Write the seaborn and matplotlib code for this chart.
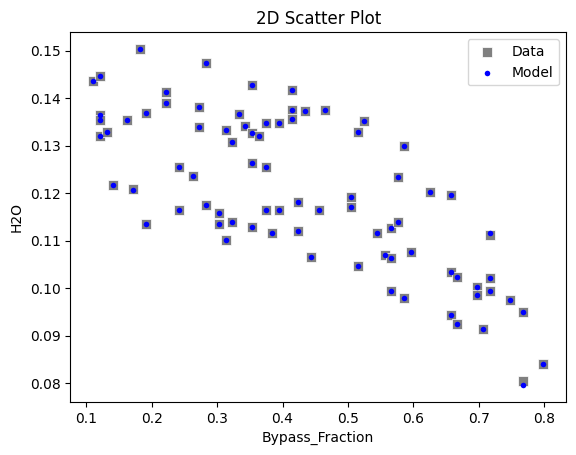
import numpy as np
import pandas as pd

import matplotlib
matplotlib.use('Agg')
import matplotlib.pyplot as plt
import seaborn as sns

bypass = [0.111, 0.121, 0.121, 0.121, 0.121, 0.131, 0.141, 0.162, 0.172, 0.182,
          0.192, 0.192, 0.222, 0.222, 0.242, 0.242, 0.263, 0.273, 0.273, 0.283,
          0.283, 0.303, 0.303, 0.313, 0.313, 0.323, 0.323, 0.333, 0.343, 0.354,
          0.354, 0.354, 0.354, 0.364, 0.374, 0.374, 0.374, 0.384, 0.394, 0.394,
          0.414, 0.414, 0.414, 0.424, 0.424, 0.434, 0.444, 0.455, 0.465, 0.505,
          0.505, 0.515, 0.515, 0.525, 0.545, 0.556, 0.566, 0.566, 0.566, 0.576,
          0.576, 0.586, 0.586, 0.596, 0.626, 0.657, 0.657, 0.657, 0.667, 0.667,
          0.697, 0.697, 0.707, 0.717, 0.717, 0.717, 0.747, 0.768, 0.768, 0.798]

h2o_data = [0.1436, 0.1447, 0.1365, 0.1355, 0.1321, 0.1330, 0.1217, 0.1355, 0.1210, 0.1504,
            0.1370, 0.1135, 0.1413, 0.1391, 0.1256, 0.1165, 0.1237, 0.1382, 0.1340, 0.1474,
            0.1175, 0.1158, 0.1135, 0.1334, 0.1101, 0.1309, 0.1139, 0.1368, 0.1342, 0.1429,
            0.1327, 0.1264, 0.1129, 0.1321, 0.1349, 0.1255, 0.1164, 0.1116, 0.1349, 0.1164,
            0.1418, 0.1376, 0.1356, 0.1181, 0.1120, 0.1374, 0.1067, 0.1164, 0.1376, 0.1192,
            0.1172, 0.1330, 0.1048, 0.1353, 0.1116, 0.1071, 0.1128, 0.1063, 0.0994, 0.1234,
            0.1139, 0.1300, 0.0979, 0.1076, 0.1202, 0.1196, 0.1034, 0.0945, 0.1023, 0.0926,
            0.1004, 0.0987, 0.0915, 0.1112, 0.1021, 0.0994, 0.0975, 0.0950, 0.0805, 0.0842]

h2o_model = [0.1436, 0.1447, 0.1365, 0.1355, 0.1321, 0.1330, 0.1217, 0.1355, 0.1208, 0.1504,
             0.1370, 0.1135, 0.1413, 0.1391, 0.1256, 0.1165, 0.1237, 0.1382, 0.1340, 0.1474,
             0.1175, 0.1158, 0.1135, 0.1334, 0.1101, 0.1309, 0.1139, 0.1368, 0.1342, 0.1429,
             0.1327, 0.1264, 0.1129, 0.1321, 0.1349, 0.1255, 0.1164, 0.1116, 0.1349, 0.1164,
             0.1418, 0.1376, 0.1356, 0.1181, 0.1120, 0.1374, 0.1067, 0.1164, 0.1376, 0.1192,
             0.1172, 0.1330, 0.1048, 0.1353, 0.1116, 0.1071, 0.1128, 0.1063, 0.0994, 0.1234,
             0.1139, 0.1300, 0.0979, 0.1076, 0.1202, 0.1196, 0.1034, 0.0945, 0.1023, 0.0926,
             0.1004, 0.0987, 0.0915, 0.1116, 0.1021, 0.0994, 0.0975, 0.0950, 0.0797, 0.0842]

df = pd.DataFrame({'Bypass_Fraction': bypass, 'Data': h2o_data, 'Model': h2o_model})

fig = plt.figure(figsize=(5.76, 4.55), dpi=100)
ax = fig.add_axes([0.122, 0.1165, 0.861, 0.8125])

sns.scatterplot(data=df, x='Bypass_Fraction', y='Data', marker='s', color='gray',
                s=42, label='Data', ax=ax)
sns.scatterplot(data=df, x='Bypass_Fraction', y='Model', marker='o', color='blue',
                s=16, linewidth=0, label='Model', ax=ax)

ax.set_xlim(0.0755, 0.8336)
ax.set_ylim(0.0761, 0.1539)
ax.set_title('2D Scatter Plot')
ax.set_xlabel('Bypass_Fraction')
ax.set_ylabel('H2O')
ax.legend(loc='upper right')

plt.savefig('out.png', dpi=100)
plt.close()
